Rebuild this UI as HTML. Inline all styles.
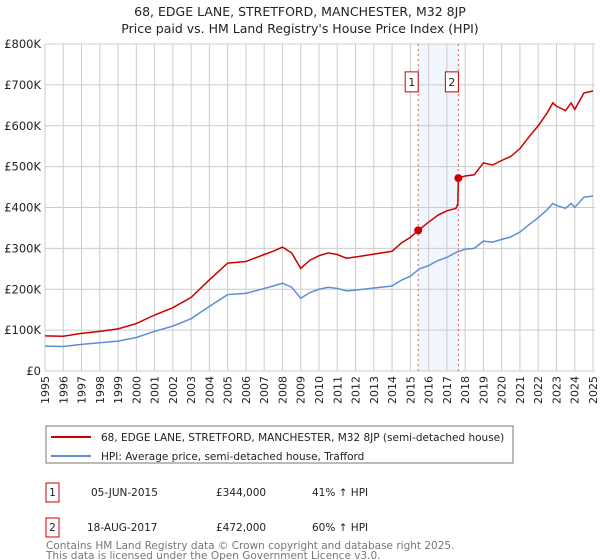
<!DOCTYPE html>
<html><head><meta charset="utf-8"><style>
body{margin:0;background:#fff;font-family:"DejaVu Sans","Liberation Sans",sans-serif;}
svg{display:block}
</style></head><body>
<svg id="c" width="600" height="560" xmlns="http://www.w3.org/2000/svg">
<text x="300" y="16" text-anchor="middle" font-size="12.5" fill="#222">68, EDGE LANE, STRETFORD, MANCHESTER, M32 8JP</text>
<text x="300" y="33" text-anchor="middle" font-size="12.5" fill="#222">Price paid vs. HM Land Registry's House Price Index (HPI)</text>
<g id="grid"></g><g id="marks"></g><g id="axes"></g>
<g>
<rect x="46" y="426" width="467" height="37" fill="#fff" stroke="#777" stroke-width="1"/>
<line x1="51" y1="437" x2="91" y2="437" stroke="#cc0000" stroke-width="2"/>
<text x="101" y="441" font-size="10.5" fill="#222">68, EDGE LANE, STRETFORD, MANCHESTER, M32 8JP (semi-detached house)</text>
<line x1="51" y1="456" x2="91" y2="456" stroke="#5b8fd4" stroke-width="2"/>
<text x="101" y="460" font-size="10.5" fill="#222">HPI: Average price, semi-detached house, Trafford</text>
</g>
<g font-size="10.5" fill="#222">
<rect x="46" y="483" width="13" height="19" fill="#fff" stroke="#cc0000"/><text x="52.5" y="496" text-anchor="middle">1</text>
<text x="91" y="496">05-JUN-2015</text><text x="216" y="496">£344,000</text><text x="312" y="496">41% ↑ HPI</text>
<rect x="46" y="518" width="13" height="19" fill="#fff" stroke="#cc0000"/><text x="52.5" y="531" text-anchor="middle">2</text>
<text x="87" y="531">18-AUG-2017</text><text x="216" y="531">£472,000</text><text x="312" y="531">60% ↑ HPI</text>
</g>
<text x="46" y="549" font-size="10.5" fill="#777">Contains HM Land Registry data © Crown copyright and database right 2025.</text>
<text x="46" y="559" font-size="10.5" fill="#777">This data is licensed under the Open Government Licence v3.0.</text>
</svg>
<script>
const hpiYears=[1995,1996,1997,1998,1999,2000,2001,2002,2003,2004,2005,2006,2007,2007.5,2008,2008.5,2009,2009.5,2010,2010.5,2011,2011.5,2012,2013,2014,2014.5,2015,2015.5,2016,2016.5,2017,2017.5,2018,2018.5,2019,2019.5,2020,2020.5,2021,2021.5,2022,2022.5,2022.8,2023,2023.5,2023.8,2024,2024.5,2025];
const hpiValues=[61,60,65,69,73,82,97,110,128,158,187,190,202,208,215,205,178,192,200,205,202,196,198,203,208,222,232,250,258,270,278,290,298,300,318,315,322,328,340,358,375,395,410,405,398,410,400,425,428];
const propYears=[1995,1996,1997,1998,1999,2000,2001,2002,2003,2004,2005,2006,2007,2007.5,2008,2008.5,2009,2009.5,2010,2010.5,2011,2011.5,2012,2013,2014,2014.5,2015,2015.43,2016,2016.5,2017,2017.5,2017.6,2017.63,2018,2018.5,2019,2019.5,2020,2020.5,2021,2021.5,2022,2022.5,2022.8,2023,2023.5,2023.8,2024,2024.5,2025];
const propValues=[86,85,92,97,103,116,137,155,180,223,264,268,285,293,303,289,251,271,282,289,285,276,279,286,293,313,327,344,364,381,392,398,409,472,477,480,509,504,515,525,544,573,600,632,656,648,637,656,640,680,685];
const sales=[{n:'1',year:2015.43,value:344},{n:'2',year:2017.63,value:472}];
const yTicks=[0,100,200,300,400,500,600,700,800];
const yTickLabels=['£0','£100K','£200K','£300K','£400K','£500K','£600K','£700K','£800K'];
const NS='http://www.w3.org/2000/svg';
const X0=45,X1=593,Y0=371,Y1=44;
const x=y=>X0+(y-1995)/30*(X1-X0);
const yv=v=>Y0-v/800*(Y0-Y1);
function mk(p,t,a){const e=document.createElementNS(NS,t);for(const k in a)e.setAttribute(k,a[k]);p.appendChild(e);return e;}
const grid=document.getElementById('grid'),marks=document.getElementById('marks'),axes=document.getElementById('axes');
const sh=mk(grid,'rect',{x:x(sales[0].year),y:Y1,width:x(sales[1].year)-x(sales[0].year),height:Y0-Y1,fill:'#eef3fc',opacity:0.8});


for(let yr=1995;yr<=2025;yr++){const l=mk(grid,'line',{x1:x(yr),x2:x(yr),y1:Y1,y2:Y0,stroke:'#ccc','stroke-width':1});


const t=mk(axes,'text',{transform:`translate(${x(yr)+4},${Y0+5}) rotate(-90)`,'text-anchor':'end','font-size':11,fill:'#222'});t.textContent=yr;

}
yTicks.forEach((v,i)=>{const l=mk(grid,'line',{x1:X0,x2:X1+2,y1:yv(v),y2:yv(v),stroke:'#ccc','stroke-width':1});


const t=mk(axes,'text',{x:X0-4,y:yv(v)+4,'text-anchor':'end','font-size':11.5,fill:'#222'});t.textContent=yTickLabels[i];

});
sales.forEach(s=>{const l=mk(grid,'line',{x1:x(s.year),x2:x(s.year),y1:Y1,y2:Y0,stroke:'#e06060','stroke-width':1,'stroke-dasharray':'2,3'});


const r=mk(axes,'rect',{x:x(s.year)-13,y:yv(700)-13,width:13,height:20,fill:'#fff',stroke:'#cc0000'});


const t=mk(axes,'text',{x:x(s.year)-6.5,y:yv(700)+1,'text-anchor':'middle','font-size':11,fill:'#222'});t.textContent=s.n;

});
const hp=mk(marks,'polyline',{points:hpiYears.map((d,i)=>x(d)+','+yv(hpiValues[i])).join(' '),fill:'none',stroke:'#5b8fd4','stroke-width':1.5});


const pp=mk(marks,'polyline',{points:propYears.map((d,i)=>x(d)+','+yv(propValues[i])).join(' '),fill:'none',stroke:'#cc0000','stroke-width':1.5});


sales.forEach(s=>{const c=mk(marks,'circle',{cx:x(s.year),cy:yv(s.value),r:4,fill:'#cc0000'});

});
</script>
</body></html>
